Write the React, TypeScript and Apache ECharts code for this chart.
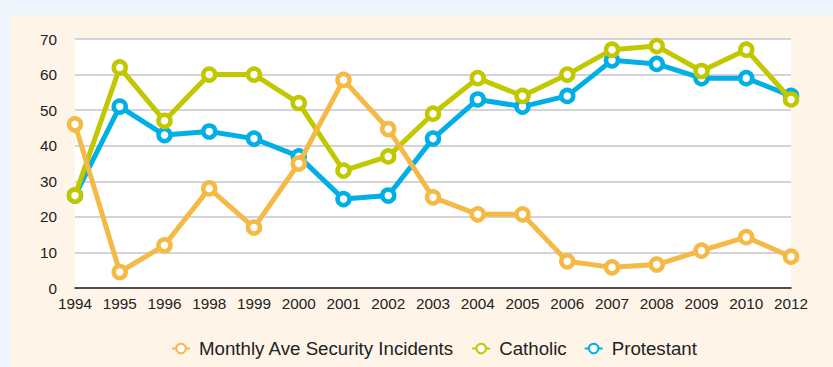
import React, { useEffect, useRef } from "react";
import * as echarts from "echarts";

const years = ["1994", "1995", "1996", "1998", "1999", "2000", "2001", "2002", "2003", "2004", "2005", "2006", "2007", "2008", "2009", "2010", "2012"];
const incidents = [46, 4.5, 12, 28, 17, 35, 58.5, 44.7, 25.5, 20.7, 20.7, 7.5, 5.8, 6.6, 10.5, 14.3, 8.8];
const catholic = [26, 62, 47, 60, 60, 52, 33, 37, 49, 59, 54, 60, 67, 68, 61, 67, 53];
const protestant = [26, 51, 43, 44, 42, 37, 25, 26, 42, 53, 51, 54, 64, 63, 59, 59, 54];

const ORANGE = "#f5b945";
const GREEN = "#c2c800";
const BLUE = "#00afe6";

const FONT = "Liberation Sans, Arial, sans-serif";

function mk(name: string, data: number[], color: string, z: number) {
  return {
    name,
    type: "line",
    data,
    z,
    symbol: "circle",
    symbolSize: 12,
    showSymbol: true,
    lineStyle: { color, width: 5 },
    itemStyle: { color: "#ffffff", borderColor: color, borderWidth: 4.5 },
    emphasis: { disabled: true },
  };
}

export default function App() {
  const ref = useRef<HTMLDivElement>(null);
  useEffect(() => {
    if (!ref.current) return;
    const chart = echarts.init(ref.current, undefined, { renderer: "svg" });
    chart.setOption({
      animation: false,
      backgroundColor: "#eef6fd",
      textStyle: { fontFamily: FONT },
      graphic: [
        {
          type: "rect",
          z: -10,
          silent: true,
          shape: { x: 10, y: 15, width: 823, height: 352 },
          style: { fill: "#fef4e8" },
        },
      ],
      grid: {
        left: 75,
        right: 42,
        top: 39,
        bottom: 79,
        show: true,
        backgroundColor: "#ffffff",
        borderWidth: 0,
      },
      legend: {
        bottom: 4,
        left: 166,
        itemGap: 17,
        itemWidth: 18,
        itemHeight: 12,
        data: ["Monthly Ave Security Incidents", "Catholic", "Protestant"],
        textStyle: { fontFamily: FONT, fontSize: 18.7, color: "#222", padding: [0, 0, 0, 4] },
      },
      xAxis: {
        type: "category",
        data: years,
        boundaryGap: false,
        axisLine: { lineStyle: { color: "#222", width: 1.5 } },
        axisTick: { show: false },
        axisLabel: { fontFamily: FONT, fontSize: 15.3, color: "#222", margin: 8, interval: 0 },
        splitLine: { show: false },
      },
      yAxis: {
        type: "value",
        min: 0,
        max: 70,
        interval: 10,
        axisLine: { show: false },
        axisTick: { show: false },
        axisLabel: { fontFamily: FONT, fontSize: 15.3, color: "#222", margin: 18 },
        splitLine: { lineStyle: { color: "#c4c4cc", width: 1.5 } },
      },
      series: [
        mk("Protestant", protestant, BLUE, 2),
        mk("Catholic", catholic, GREEN, 3),
        mk("Monthly Ave Security Incidents", incidents, ORANGE, 4),
      ],
    });
    return () => chart.dispose();
  }, []);
  return (
    <div
      ref={ref}
      style={{ position: "absolute", left: 0, top: 0, width: 833, height: 367 }}
    />
  );
}
